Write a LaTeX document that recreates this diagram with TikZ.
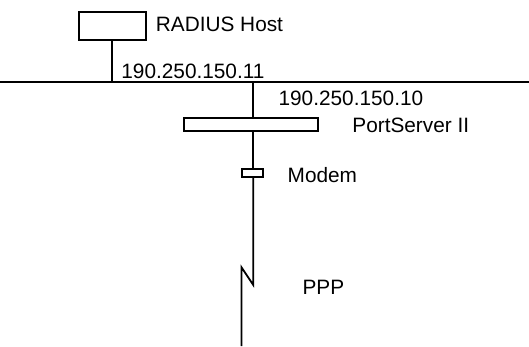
\documentclass[tikz,border=0pt]{standalone}
\usepackage{fontspec}
\setmainfont{Liberation Sans}
\begin{document}
\begin{tikzpicture}[x=1pt,y=-1pt,line width=1.8pt,
    unit/.style={draw=black,line width=1.8pt,inner sep=0pt},
    lbl/.style={inner sep=0pt,anchor=west,font=\fontsize{20.8}{24}\selectfont}]
	\useasboundingbox (0,0) rectangle (529,346);
	% network backbone
	\coordinate (lanL) at (0,81.7);
	\coordinate (lanR) at (529,81.7);
	\draw (lanL) -- (lanR);
	% radius host
	\node [unit,minimum width=67pt,minimum height=28pt] (host) at (112.5,26) {};
	\node [lbl] (hostlbl) at (155,24.5) {RADIUS Host};
	\coordinate (hosttap) at (111.7,81.7);
	\draw (hosttap |- host.south) -- (hosttap);
	\node [lbl] (hostip) at (120.5,71) {190.250.150.11};
	% port server
	\coordinate (pstap) at (253.3,81.7);
	\node [unit,minimum width=134pt,minimum height=13pt] (ps) at (251.3,124.2) {};
	\node [lbl] (psip) at (277.7,98.5) {190.250.150.10};
	\node [lbl] (pslbl) at (351.5,125) {PortServer II};
	\draw (pstap) -- (pstap |- ps.north);
	% modem
	\node [unit,minimum width=21.3pt,minimum height=8pt] (modem) at (252.3,172.7) {};
	\node [lbl] (modemlbl) at (286.8,175) {Modem};
	\draw (pstap |- ps.south) -- (pstap |- modem.north);
	% ppp link
	\coordinate (zzA) at (253.3,285);
	\coordinate (zzB) at (241.5,267.3);
	\coordinate (lineEnd) at (241.5,346);
	\draw (pstap |- modem.south) -- (zzA) -- (zzB) -- (lineEnd);
	\node [lbl] (ppplbl) at (301.7,287.5) {PPP};
\end{tikzpicture}
\end{document}
